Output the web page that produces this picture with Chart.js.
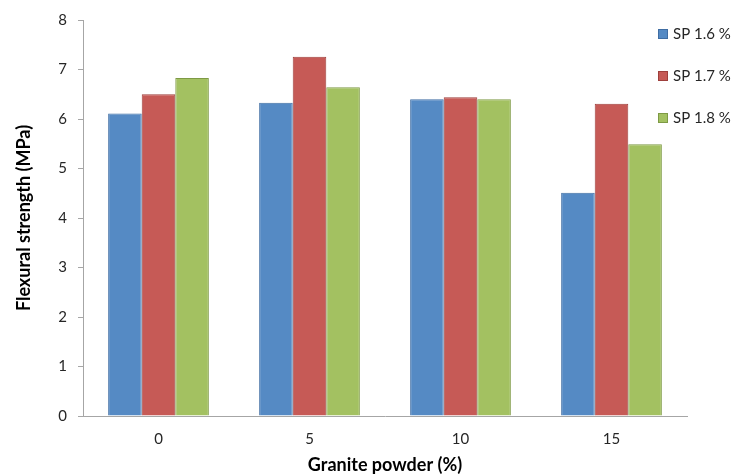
<!DOCTYPE html>
<html>
<head>
<meta charset="utf-8">
<script src="https://cdn.jsdelivr.net/npm/chart.js@4.4.1/dist/chart.umd.min.js"></script>
<style>
  html, body { margin: 0; padding: 0; background: #ffffff; }
  #wrap { width: 748px; height: 476px; position: relative; }
</style>
</head>
<body>
<div id="wrap"><canvas id="chart" width="748" height="476"></canvas></div>
<script>
// Granite powder replacement levels (%)
const categories = ['0', '5', '10', '15'];
// Flexural strength (MPa) for each superplasticizer dosage
const sp16 = [6.11, 6.33, 6.40, 4.51];
const sp17 = [6.50, 7.26, 6.44, 6.31];
const sp18 = [6.83, 6.64, 6.40, 5.49];
const seriesLabels = ['SP 1.6 %', 'SP 1.7 %', 'SP 1.8 %'];

const FONT = 'Lato, "Open Sans", sans-serif';
const GREY = '#a6a6a6';
const TEXT = '#262626';

// Legend drawn as an overlay at the upper right, in Excel style
const sideLegend = {
  id: 'sideLegend',
  afterDraw(chart) {
    const ctx = chart.ctx;
    ctx.save();
    ctx.font = '15px ' + FONT;
    ctx.textBaseline = 'middle';
    ctx.textAlign = 'left';
    chart.data.datasets.forEach((ds, i) => {
      const cy = 34 + i * 42;
      ctx.fillStyle = ds.backgroundColor;
      ctx.fillRect(658, cy - 5, 10, 10);
      ctx.strokeStyle = ds.borderColor;
      ctx.lineWidth = 1;
      ctx.strokeRect(658.5, cy - 4.5, 9, 9);
      ctx.fillStyle = TEXT;
      ctx.fillText(ds.label, 673, cy);
    });
    ctx.restore();
  }
};

new Chart(document.getElementById('chart'), {
  type: 'bar',
  data: {
    labels: categories,
    datasets: [
      { label: seriesLabels[0], data: sp16, backgroundColor: '#558ac4', borderColor: '#3f6da3', borderWidth: 1 },
      { label: seriesLabels[1], data: sp17, backgroundColor: '#c65a56', borderColor: '#9e3f3c', borderWidth: 1 },
      { label: seriesLabels[2], data: sp18, backgroundColor: '#a3c161', borderColor: '#7e9a45', borderWidth: 1 }
    ]
  },
  options: {
    responsive: false,
    animation: false,
    devicePixelRatio: 1,
    layout: { padding: { top: 20, right: 61, left: 0, bottom: 0 } },
    datasets: { bar: { categoryPercentage: 0.667, barPercentage: 1.0 } },
    plugins: {
      legend: { display: false },
      tooltip: { enabled: false }
    },
    scales: {
      x: {
        grid: { display: false, drawTicks: false },
        border: { display: true, color: GREY, width: 1 },
        ticks: { color: TEXT, font: { family: FONT, size: 15 }, padding: 14 },
        title: {
          display: true,
          text: 'Granite powder (%)',
          color: '#000000',
          font: { family: FONT, size: 18, weight: 'bold' },
          padding: { top: 0, bottom: 0 }
        },
        afterFit(scale) { scale.height = 60; }
      },
      y: {
        min: 0,
        max: 8,
        ticks: { stepSize: 1, color: TEXT, font: { family: FONT, size: 15 }, padding: 11 },
        grid: { drawOnChartArea: false, drawTicks: true, tickLength: 5, color: GREY },
        border: { display: true, color: GREY, width: 1 },
        title: {
          display: true,
          text: 'Flexural strength (MPa)',
          color: '#000000',
          font: { family: FONT, size: 18, weight: 'bold' },
          padding: { top: 13, bottom: 0 }
        },
        afterFit(scale) { scale.width = 83; }
      }
    }
  },
  plugins: [sideLegend]
});
</script>
</body>
</html>
